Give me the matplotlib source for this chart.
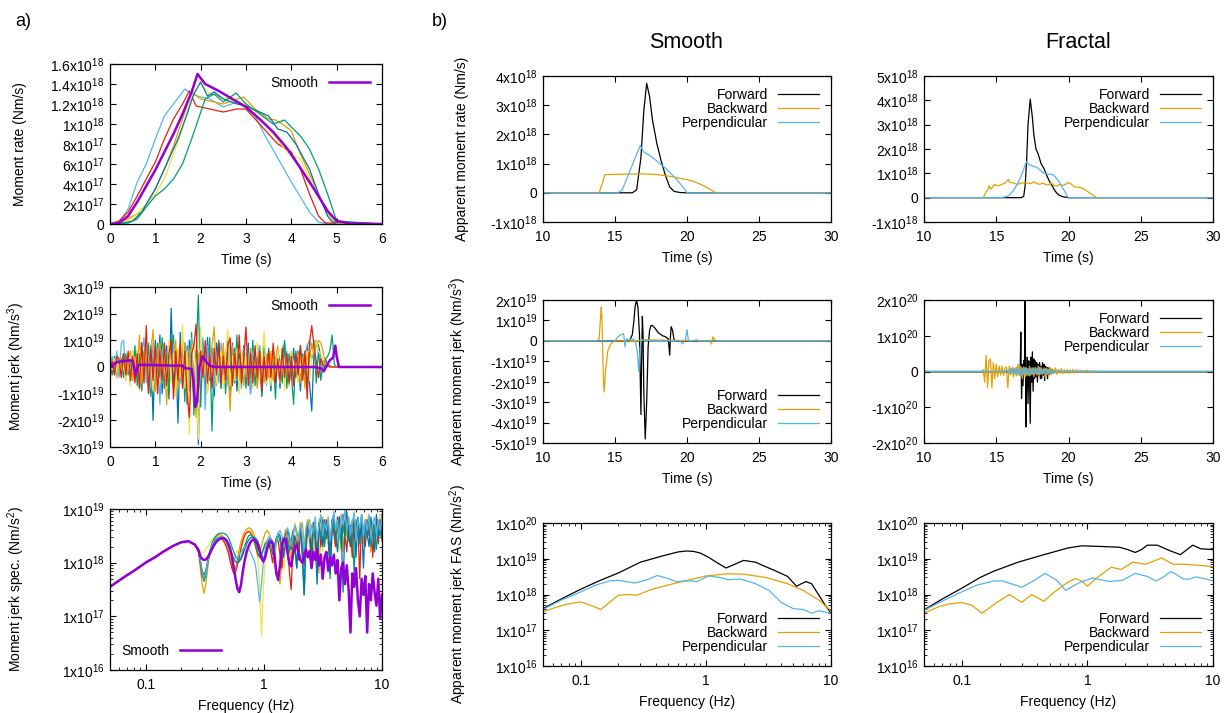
import numpy as np
import matplotlib
matplotlib.use('Agg')
import matplotlib.pyplot as plt
from matplotlib.ticker import LogLocator, NullFormatter

plt.rcParams.update({
    'font.family': 'Liberation Sans', 'font.size': 10,
    'mathtext.fontset': 'custom', 'mathtext.rm': 'Liberation Sans',
    'mathtext.default': 'regular', 'axes.linewidth': 0.9,
    'xtick.direction': 'in', 'ytick.direction': 'in',
    'xtick.top': True, 'ytick.right': True,
    'xtick.labelsize': 10, 'ytick.labelsize': 10,
    'xtick.major.size': 4.5, 'ytick.major.size': 4.5,
    'xtick.minor.size': 2.5, 'ytick.minor.size': 2.5,
    'xtick.major.pad': 5.5, 'ytick.major.pad': 4,
    'axes.labelpad': 5,
})

C_PURPLE = '#9400d3'
C_GREEN = '#009e73'
C_LBLUE = '#56b4e9'
C_ORANGE = '#e69f00'
C_YELLOW = '#f0e442'
C_BLUE = '#0072b2'
C_RED = '#e51e10'

# ---------------- a) moment rate (x1e18 Nm/s) ----------------
rate_smooth_t = [0, 0.2, 0.4, 0.6, 0.8, 1.0, 1.2, 1.4, 1.6, 1.8, 1.93, 2.1, 2.4, 2.7, 3.0, 3.3, 3.6, 3.9, 4.2, 4.5, 4.8, 5.0, 5.3, 6.0]
rate_smooth = [0, 0.01, 0.08, 0.22, 0.38, 0.54, 0.72, 0.9, 1.1, 1.32, 1.5, 1.4, 1.33, 1.25, 1.17, 1.05, 0.92, 0.76, 0.56, 0.35, 0.13, 0.03, 0.005, 0]
rate_lblue_t = [0, 0.2, 0.4, 0.6, 0.8, 1.0, 1.2, 1.4, 1.65, 1.8, 2.0, 2.2, 2.5, 2.8, 3.0, 3.2, 3.4, 3.6, 3.8, 4.0, 4.2, 4.4, 4.6, 4.8, 6]
rate_lblue = [0, 0.02, 0.15, 0.42, 0.6, 0.85, 1.08, 1.2, 1.35, 1.3, 1.27, 1.25, 1.17, 1.22, 1.17, 1.08, 0.9, 0.74, 0.58, 0.42, 0.27, 0.12, 0.02, 0, 0]
rate_red_t = [0, 0.2, 0.4, 0.6, 0.8, 1.0, 1.2, 1.4, 1.6, 1.75, 1.9, 2.2, 2.5, 2.8, 3.0, 3.2, 3.4, 3.7, 4.0, 4.2, 4.4, 4.6, 4.75, 6]
rate_red = [0, 0.03, 0.12, 0.28, 0.45, 0.62, 0.85, 1.05, 1.2, 1.33, 1.18, 1.15, 1.12, 1.15, 1.15, 1.05, 0.95, 0.8, 0.72, 0.55, 0.3, 0.08, 0.01, 0]
rate_orange_t = [0, 0.3, 0.5, 0.7, 1.0, 1.2, 1.4, 1.6, 1.8, 2.0, 2.2, 2.5, 2.8, 2.95, 3.2, 3.5, 3.65, 3.8, 4.0, 4.2, 4.4, 4.6, 4.8, 4.95, 6]
rate_orange = [0, 0.03, 0.08, 0.12, 0.35, 0.55, 0.78, 1.05, 1.32, 1.25, 1.23, 1.2, 1.25, 1.27, 1.15, 1.05, 1.04, 1.0, 0.93, 0.7, 0.5, 0.3, 0.1, 0.02, 0]
rate_yellow_t = [0, 0.3, 0.5, 0.8, 1.0, 1.2, 1.4, 1.6, 1.75, 1.9, 2.2, 2.6, 3.0, 3.3, 3.6, 3.9, 4.2, 4.4, 4.6, 4.8, 5.0, 6]
rate_yellow = [0, 0.02, 0.06, 0.2, 0.3, 0.45, 0.7, 0.95, 1.2, 1.45, 1.3, 1.25, 1.2, 1.05, 0.9, 0.72, 0.65, 0.45, 0.28, 0.1, 0.01, 0]
rate_blue_t = [0, 0.3, 0.5, 0.7, 1.0, 1.2, 1.5, 1.7, 1.85, 2.0, 2.15, 2.3, 2.5, 2.8, 3.0, 3.3, 3.5, 3.7, 3.9, 4.1, 4.4, 4.6, 4.8, 4.9, 6]
rate_blue = [0, 0.01, 0.03, 0.12, 0.35, 0.55, 0.85, 1.1, 1.3, 1.42, 1.28, 1.32, 1.25, 1.2, 1.18, 1.12, 1.08, 0.95, 0.92, 0.8, 0.55, 0.3, 0.08, 0.02, 0]
rate_green_t = [0, 0.4, 0.6, 0.8, 1.0, 1.2, 1.4, 1.6, 1.8, 1.95, 2.1, 2.3, 2.5, 2.78, 3.0, 3.3, 3.6, 3.85, 4.0, 4.2, 4.4, 4.6, 4.8, 5.0, 6]
rate_green = [0, 0.01, 0.05, 0.17, 0.28, 0.35, 0.45, 0.6, 0.85, 1.05, 1.25, 1.3, 1.22, 1.31, 1.2, 1.1, 1.0, 1.04, 0.97, 0.88, 0.75, 0.55, 0.3, 0.03, 0]

# ---------------- a) moment jerk (x1e19), samples every 0.05 s from 0 to 5 s ----------------
jerk_blue = [-0.5, 0.3, -0.2, 0.4, -0.3, 0.2, 0.5, -0.4, 0.3, -0.6,
             0.4, -0.2, 0.6, -0.8, 0.9, -0.5, 0.7, -1.0, 0.8, -2.0,
             1.0, -0.6, 1.2, -1.0, 0.4, 0.8, -1.2, 2.2, -0.8, 0.5,
             -2.1, 1.3, -0.7, 0.9, -1.4, 1.0, 0.3, -1.2, 0.6, -2.9,
             0.9, 0.2, -0.9, 1.1, -0.5, 0.7, -1.1, 0.9, 0.3, -0.8,
             0.6, -0.5, 1.0, -1.2, 0.4, 0.7, -0.9, 0.5, -0.3, 0.8,
             -0.6, 0.9, -1.0, 0.3, 0.6, -0.7, 0.4, -1.1, 0.8, -0.4,
             0.5, -0.9, 0.7, -0.3, 0.6, -0.8, 0.4, 0.9, -0.6, 0.3,
             -0.5, 0.7, -0.4, 0.6, -0.9, 0.5, -0.3, 0.8, -0.6, -1.65,
             0.6, 1.0, 0.8, 0.4, -0.2, 0.3, 0.1, 0.05, 0.0, 0.02, 0.0]
jerk_green = [0.2, -0.3, 0.4, -0.2, 0.1, 0.3, -0.4, 0.5, -0.3, 0.2,
              -0.5, 0.8, -0.7, 0.5, -0.9, 0.6, -0.3, 0.9, -1.1, 0.4,
              -0.6, 0.9, -0.4, 1.1, -0.8, 0.5, -1.0, 0.7, 1.2, -0.9,
              0.6, -0.4, 1.0, -1.3, 0.8, -0.6, 1.3, -1.8, 0.5, 2.7,
              -1.5, 0.9, 0.3, -0.8, 1.1, -2.4, 0.6, -0.5, 1.0, -0.7,
              0.4, -1.0, 0.8, -0.3, 0.9, -0.6, 1.2, -0.9, 0.5, 0.3,
              -0.8, 0.6, -0.4, 1.0, -0.7, 0.3, 0.8, -1.0, 0.5, -0.3,
              0.7, -0.5, 0.4, -1.2, 0.6, 0.2, -0.6, 1.0, -0.8, 0.5,
              -0.3, -1.4, 0.6, -0.5, 0.8, -0.4, 0.3, -0.7, 0.5, 0.3,
              1.0, -0.6, 0.7, -0.5, 0.2, 0.3, 0.4, 0.6, 1.2, 0.1, 0.0]
jerk_lblue = [0.1, 0.4, -0.3, 0.6, -0.4, 0.9, 1.0, -0.5, 0.4, -0.3,
              0.6, -0.4, 0.3, -0.7, 0.5, 1.1, -0.6, 0.4, -0.8, 0.9,
              -0.5, 0.7, -1.4, 0.6, 0.9, -0.7, 0.5, -0.3, 0.8, -0.9,
              0.4, -0.6, 1.0, -0.4, 0.7, -0.9, 1.1, -0.5, 0.3, -1.3,
              0.2, 1.1, -1.6, 0.8, -0.4, 0.6, -0.8, 0.4, -0.6, 0.9,
              -0.3, 0.5, -0.7, 0.9, -0.4, 0.6, -0.5, 0.3, -0.8, 0.7,
              -0.4, 0.5, -1.0, 0.6, 0.3, -0.6, 0.8, -0.4, 0.5, -0.7,
              0.4, -0.5, 0.7, -0.3, 0.5, -0.6, 0.3, -0.4, 0.6, -0.5,
              0.3, -0.4, 0.5, -0.2, 0.4, -0.3, 0.5, 0.8, 1.0, 0.7,
              0.5, 1.0, 0.6, 0.3, -0.2, 0.1, 0.0, 0.05, 0.0, 0.0, 0.0]
jerk_orange = [-0.2, 0.2, 0.3, -0.4, 0.2, -0.3, 0.5, -0.2, 0.3, 0.6,
               -0.5, 0.4, -0.3, 1.2, -0.6, 0.4, 0.8, -0.7, 0.6, 1.4,
               -0.9, 0.5, 0.9, -0.6, 0.4, -1.4, 0.7, -0.5, 0.3, 1.0,
               -0.8, 0.6, -0.5, 0.9, -1.2, 0.4, 0.8, -0.6, -1.9, 0.5,
               0.7, -0.3, 0.5, -0.9, 0.4, 0.8, 1.5, -0.7, 0.6, -0.4,
               0.9, -0.6, 0.3, -1.65, 0.8, -0.5, 0.6, -0.3, 0.4, -0.7,
               0.5, -0.3, 0.7, -0.5, 0.4, -0.8, 0.6, 0.3, -0.6, 0.5,
               -0.4, 0.6, -0.5, 0.3, 0.8, -0.6, 0.4, -0.3, 0.5, -0.7,
               0.6, -0.4, 0.3, 0.5, -0.6, 0.4, -0.8, 0.6, 0.3, 0.9,
               0.5, 0.8, 1.0, 0.9, 0.6, 0.1, 0.05, 0.0, 0.0, 0.0, 0.0]
jerk_yellow = [0.1, -0.1, 0.3, -0.2, 0.4, -0.3, 0.2, -0.5, 0.4, -0.7,
               0.6, -0.4, 0.7, -0.9, 0.5, -0.6, 0.8, -0.5, 0.3, -0.9,
               0.5, -0.7, 0.6, -0.4, 0.9, -0.8, 1.0, -0.6, 0.5, -1.1,
               0.7, -0.4, 1.6, -0.8, 0.6, -2.5, 0.4, 1.0, -0.6, -2.7,
               1.5, -0.5, 0.6, -1.0, 0.5, -0.4, 0.8, -0.6, 0.3, 0.6,
               -0.8, 0.5, 1.4, -0.7, 0.4, -0.5, 0.7, -1.0, 0.6, -0.3,
               0.5, -0.6, 0.4, -0.8, 0.6, 0.9, -0.5, 0.3, 1.35, -0.6,
               0.4, -0.7, 0.5, -0.3, 0.6, -0.5, 0.8, -0.9, 0.4, -0.3,
               0.6, -0.5, 0.3, -0.6, 0.5, -0.4, 0.3, 0.6, -0.5, 0.4,
               0.7, 1.0, 0.6, 0.5, 0.2, 0.0, 0.05, 0.0, 0.0, 0.0, 0.0]
jerk_red = [0.0, 0.2, -0.3, 0.4, 0.3, -0.4, 0.5, -0.3, 0.6, -0.5,
            0.4, -0.6, 0.5, -0.8, 0.9, -0.6, 1.55, -1.0, 0.7, -0.5,
            0.8, -1.0, 0.6, -0.5, 0.9, -0.7, 0.5, 1.0, -1.2, 0.6,
            -0.5, 0.9, -0.8, 0.6, -1.0, -1.9, 0.5, 0.8, 1.6, -0.9,
            0.6, -0.4, 1.0, -0.6, 0.5, -0.8, 0.7, -0.3, 0.9, -0.6,
            0.4, -0.5, 0.8, 1.1, -0.7, 0.5, -0.4, 1.2, -0.6, 0.3,
            1.5, -0.7, 0.5, -0.6, 0.8, -0.4, 0.6, -0.9, 0.4, -0.5,
            0.6, -0.4, 0.9, -0.6, 0.3, -0.5, 0.7, -0.4, 0.5, -0.6,
            0.4, -0.7, 0.5, -0.3, 0.8, -0.5, 0.6, -1.2, 0.9, 1.55,
            0.8, 0.2, -0.4, 0.3, 0.1, 0.0, 0.05, 0.0, 0.0, 0.0, 0.0]
jerk_smooth_t = [0, 0.05, 0.1, 0.2, 0.3, 0.4, 0.5, 0.53, 0.57, 0.62, 0.65, 0.8, 1.0, 1.2, 1.4, 1.6, 1.65, 1.7, 1.8, 1.84, 1.88, 1.92, 1.97, 2.05, 2.12, 2.2, 2.3, 2.5, 3, 3.5, 4, 4.5, 4.65, 4.72, 4.78, 4.85, 4.92, 4.97, 5.0, 5.05, 5.2, 6]
jerk_smooth = [0.1, 0.0, 0.15, 0.2, 0.22, 0.24, 0.25, 0.0, -0.3, 0.05, 0.08, 0.08, 0.07, 0.06, 0.05, 0.05, -0.05, -0.05, -0.07, -0.5, -1.5, -1.3, 0.0, 0.4, 0.2, 0.05, 0.0, 0.0, 0.0, 0.0, 0.0, 0.0, -0.05, -0.15, 0.05, 0.25, 0.35, 0.8, 0.4, 0.0, 0.0, 0.0]

# ---------------- a) moment jerk spectrum (log10 of Nm/s^2) ----------------
spec_low_f = [0.05, 0.06, 0.07, 0.08, 0.1, 0.12, 0.14, 0.17, 0.2, 0.23, 0.26]
spec_low = [17.55, 17.67, 17.77, 17.85, 18.0, 18.1, 18.2, 18.31, 18.38, 18.4, 18.34]
# log-spaced samples from 0.28 Hz to 10 Hz
spec_smooth = [18.24, 18.12, 18.07, 18.05, 18.06, 18.1, 18.16, 18.23, 18.3, 18.36,
               18.4, 18.43, 18.45, 18.46, 18.45, 18.42, 18.36, 18.27, 18.12, 17.92,
               17.7, 17.52, 17.45, 17.6, 17.85, 18.05, 18.2, 18.3, 18.38, 18.42,
               18.43, 18.4, 18.33, 18.22, 18.08, 18.02, 18.1, 18.25, 18.35, 18.4,
               18.36, 18.15, 17.8, 17.68, 17.95, 18.3, 18.45, 18.43, 18.2, 17.98,
               17.93, 18.15, 18.3, 18.32, 18.2, 18.05, 18.0, 18.12, 18.25, 18.1,
               18.22, 17.9, 18.2, 18.05, 18.25, 17.95, 18.15, 17.7, 18.1, 18.2,
               17.85, 18.1, 17.95, 18.15, 17.8, 18.05, 17.3, 17.9, 18.0, 17.6,
               17.95, 17.5, 16.7, 17.8, 17.55, 17.9, 17.3, 17.0, 17.7, 17.4,
               17.75, 16.7, 17.6, 17.3, 17.8, 17.45, 17.2, 17.7, 16.95, 17.4]
spec_yellow = [18.25, 18.2, 18.18, 18.2, 18.25, 18.3, 18.36, 18.41, 18.45, 18.47,
               18.48, 18.48, 18.46, 18.42, 18.36, 18.3, 18.24, 18.2, 18.17, 18.16,
               18.18, 18.22, 18.15, 18.2, 18.35, 18.48, 18.56, 18.6, 18.6, 18.55,
               18.45, 18.3, 18.05, 17.6, 16.65, 17.5, 18.1, 18.35, 18.45, 18.4,
               18.2, 17.9, 18.3, 18.55, 18.5, 18.2, 17.85, 18.4, 18.6, 18.45,
               18.1, 18.5, 18.75, 18.55, 18.2, 18.7, 18.4, 18.05, 18.65, 18.8,
               18.5, 18.1, 18.7, 18.55, 18.3, 18.8, 18.6, 18.2, 18.75, 18.5,
               18.85, 18.3, 18.6, 18.9, 18.4, 18.7, 18.2, 18.8, 18.55, 18.9,
               18.35, 18.75, 18.6, 18.1, 18.85, 18.5, 18.7, 18.3, 18.9, 18.6,
               18.4, 18.85, 18.55, 18.75, 18.2, 18.8, 18.6, 18.4, 18.9, 18.7]
spec_orange = [18.2, 17.9, 17.6, 17.43, 17.6, 17.9, 18.15, 18.3, 18.4, 18.46,
               18.5, 18.52, 18.52, 18.5, 18.45, 18.37, 18.25, 18.1, 17.95, 17.85,
               17.9, 18.05, 18.25, 18.4, 18.5, 18.58, 18.62, 18.65, 18.64, 18.6,
               18.52, 18.4, 18.25, 18.2, 18.3, 18.45, 18.55, 18.6, 18.55, 18.45,
               18.3, 18.1, 17.9, 17.75, 17.6, 18.0, 18.4, 18.62, 18.55, 18.3,
               18.0, 18.45, 18.7, 18.5, 18.15, 18.6, 18.75, 18.4, 18.1, 18.65,
               18.8, 18.45, 18.1, 18.7, 18.5, 17.8, 18.6, 18.85, 18.4, 18.7,
               18.55, 18.15, 18.8, 18.6, 18.3, 18.85, 18.45, 18.7, 18.2, 18.75,
               18.5, 18.85, 18.3, 18.65, 18.8, 18.4, 18.7, 18.55, 18.9, 18.35,
               18.75, 18.6, 18.85, 18.2, 18.7, 18.5, 18.85, 18.4, 18.75, 18.6]
spec_red = [18.2, 18.0, 17.75, 17.72, 17.85, 18.05, 18.2, 18.3, 18.38, 18.43,
            18.46, 18.47, 18.46, 18.43, 18.38, 18.3, 18.2, 18.05, 17.9, 17.8,
            17.82, 17.95, 18.1, 18.28, 18.42, 18.52, 18.56, 18.58, 18.56, 18.5,
            18.4, 18.28, 18.15, 18.1, 18.15, 18.25, 18.35, 18.4, 18.35, 18.2,
            18.0, 18.3, 18.45, 18.4, 18.15, 17.9, 18.35, 18.55, 18.4, 17.85,
            17.5, 18.3, 18.5, 18.35, 18.05, 18.6, 18.45, 17.95, 18.55, 18.7,
            18.4, 18.0, 18.65, 18.5, 18.2, 18.75, 18.3, 18.6, 18.8, 18.45,
            18.7, 18.15, 18.8, 18.55, 18.3, 18.85, 18.6, 18.4, 18.9, 18.5,
            18.2, 18.75, 18.6, 18.1, 18.8, 18.4, 18.7, 17.7, 18.85, 18.6,
            18.3, 18.8, 18.5, 18.75, 18.1, 18.7, 18.6, 18.35, 18.8, 18.55]
spec_green = [18.22, 18.05, 17.8, 17.65, 17.75, 18.0, 18.2, 18.33, 18.42, 18.48,
              18.52, 18.54, 18.55, 18.55, 18.54, 18.52, 18.48, 18.4, 18.3, 18.2,
              18.12, 18.07, 18.05, 18.1, 18.2, 18.32, 18.42, 18.5, 18.52, 18.5,
              18.42, 18.3, 18.18, 18.12, 18.15, 18.25, 18.35, 18.4, 18.38, 18.3,
              18.15, 18.3, 18.45, 18.5, 18.4, 18.15, 18.35, 18.5, 18.45, 18.2,
              18.4, 18.6, 18.3, 17.9, 18.45, 18.6, 18.35, 17.4, 18.3, 18.65,
              18.5, 18.2, 18.75, 18.6, 18.0, 18.7, 18.45, 18.8, 18.3, 18.6,
              18.75, 17.7, 18.5, 18.8, 18.4, 18.65, 18.85, 18.25, 18.7, 18.5,
              18.85, 18.4, 18.7, 18.55, 17.8, 18.8, 18.6, 18.35, 18.9, 18.5,
              18.7, 18.45, 18.85, 18.3, 18.75, 18.6, 18.25, 18.8, 18.5, 18.7]
spec_blue = [18.22, 18.05, 17.85, 17.78, 17.85, 18.0, 18.15, 18.27, 18.35, 18.41,
             18.45, 18.47, 18.48, 18.47, 18.45, 18.41, 18.35, 18.27, 18.17, 18.07,
             18.02, 18.0, 18.02, 18.07, 18.15, 18.25, 18.35, 18.42, 18.46, 18.48,
             18.47, 18.45, 18.4, 18.3, 18.15, 18.05, 18.15, 18.3, 18.42, 18.45,
             18.4, 18.25, 18.45, 18.55, 18.5, 18.3, 18.1, 18.4, 18.6, 18.5,
             18.25, 18.55, 18.4, 17.9, 18.5, 18.65, 18.1, 17.4, 18.4, 18.7,
             18.55, 18.2, 18.75, 18.45, 17.6, 18.7, 18.85, 18.3, 18.6, 18.8,
             18.4, 17.8, 18.7, 18.9, 18.5, 18.2, 18.85, 18.6, 17.45, 18.75,
             18.95, 18.5, 18.3, 18.8, 18.6, 18.1, 18.85, 18.45, 18.7, 17.9,
             18.8, 18.55, 18.3, 18.85, 18.6, 18.2, 18.9, 18.5, 18.75, 18.4]
spec_lblue = [18.22, 18.05, 17.85, 17.72, 17.82, 18.0, 18.18, 18.3, 18.38, 18.43,
              18.46, 18.47, 18.47, 18.45, 18.42, 18.38, 18.3, 18.22, 18.15, 18.1,
              18.08, 18.1, 18.15, 18.2, 18.25, 18.3, 18.3, 18.26, 18.2, 18.12,
              18.05, 17.9, 17.6, 17.27, 17.6, 18.0, 18.25, 18.4, 18.48, 18.45,
              18.35, 18.2, 18.4, 18.55, 18.6, 18.5, 18.3, 18.45, 18.65, 18.55,
              18.3, 18.5, 18.7, 18.6, 18.4, 18.75, 18.5, 18.2, 18.65, 18.8,
              18.45, 18.7, 18.55, 18.85, 18.4, 18.7, 18.9, 18.5, 18.75, 18.6,
              18.85, 18.4, 18.7, 18.95, 18.6, 18.8, 18.45, 18.9, 18.7, 19.0,
              18.6, 18.85, 18.5, 18.75, 18.95, 18.4, 18.8, 18.65, 18.9, 18.5,
              18.8, 18.6, 18.9, 18.45, 18.75, 18.85, 18.5, 18.8, 18.6, 18.9]

# ---------------- b) apparent moment rate (x1e18) ----------------
s_rate_fw_t = [10, 16.2, 16.5, 16.8, 17.0, 17.2, 17.4, 17.6, 17.9, 18.2, 18.5, 18.8, 19.1, 19.5, 20, 30]
s_rate_fw = [0, 0, 0.1, 1.2, 2.8, 3.75, 3.3, 2.5, 1.7, 1.1, 0.6, 0.2, 0.05, 0.01, 0, 0]
s_rate_bw_t = [10, 13.9, 14.1, 14.3, 15, 16, 17, 18, 19, 20, 20.5, 21, 21.5, 22, 30]
s_rate_bw = [0, 0, 0.3, 0.62, 0.63, 0.64, 0.65, 0.62, 0.55, 0.45, 0.38, 0.28, 0.15, 0, 0]
s_rate_pp_t = [10, 15.2, 15.5, 16, 16.4, 16.75, 17.0, 17.5, 18, 18.6, 19.3, 19.8, 20, 30]
s_rate_pp = [0, 0, 0.1, 0.7, 1.2, 1.62, 1.4, 1.25, 1.05, 0.8, 0.45, 0.15, 0, 0]

f_rate_fw_t = [10, 16.7, 16.9, 17.0, 17.1, 17.2, 17.35, 17.5, 17.6, 17.75, 17.9, 18.1, 18.3, 18.5, 18.7, 18.9, 19.1, 19.3, 19.6, 20.0, 30]
f_rate_fw = [0, 0, 0.05, 0.5, 1.5, 3.0, 4.05, 3.3, 2.6, 2.0, 1.8, 1.4, 1.2, 0.9, 0.65, 0.45, 0.25, 0.12, 0.04, 0, 0]
f_rate_bw_t = [10, 14.1, 14.2, 14.3, 14.4, 14.5, 14.6, 14.7, 14.8, 14.9, 15.0, 15.2, 15.4, 15.6, 15.8, 15.85, 15.9, 16.0, 16.2, 16.4, 16.6, 16.8, 17.0, 17.2, 17.4, 17.6, 17.8, 18.0, 18.2, 18.4, 18.6, 18.8, 19.0, 19.2, 19.4, 19.6, 19.8, 20.0, 20.2, 20.4, 20.6, 20.8, 21.0, 21.2, 21.4, 21.6, 21.8, 21.95, 30]
f_rate_bw = [0, 0, 0.1, 0.25, 0.3, 0.5, 0.35, 0.4, 0.5, 0.55, 0.5, 0.5, 0.55, 0.6, 0.72, 0.75, 0.65, 0.62, 0.6, 0.55, 0.57, 0.6, 0.62, 0.6, 0.58, 0.65, 0.58, 0.55, 0.6, 0.55, 0.52, 0.6, 0.5, 0.48, 0.55, 0.5, 0.55, 0.62, 0.55, 0.45, 0.43, 0.42, 0.38, 0.3, 0.22, 0.15, 0.06, 0.0, 0]
f_rate_pp_t = [10, 15.3, 15.6, 15.9, 16.2, 16.5, 16.8, 17.0, 17.1, 17.3, 17.5, 17.8, 18.0, 18.3, 18.6, 18.9, 19.1, 19.3, 19.5, 19.7, 19.9, 20.0, 30]
f_rate_pp = [0, 0, 0.03, 0.1, 0.3, 0.6, 1.0, 1.35, 1.48, 1.35, 1.3, 1.25, 1.15, 1.0, 0.97, 0.95, 0.85, 0.7, 0.5, 0.3, 0.08, 0, 0]

# ---------------- b) apparent moment jerk ----------------
# smooth, x1e19
s_jerk_fw_t = [10, 16.0, 16.2, 16.3, 16.4, 16.5, 16.6, 16.7, 16.8, 16.85, 16.9, 16.95, 17.0, 17.1, 17.2, 17.3, 17.4, 17.5, 17.6, 17.8, 18.0, 18.3, 18.5, 18.7, 18.8, 18.85, 18.9, 19.0, 19.1, 19.2, 30]
s_jerk_fw = [0, 0, 0.3, 0.9, 1.7, 2.0, 1.6, 0.3, -3.6, -1.0, 1.2, 0.2, -2.5, -4.8, -3.0, -0.3, 0.5, 0.75, 0.75, 0.6, 0.4, 0.25, 0.2, 0.1, -0.7, 0.2, 0.7, 0.5, 0.05, 0, 0]
s_jerk_bw_t = [10, 13.75, 13.9, 14.0, 14.05, 14.1, 14.15, 14.2, 14.25, 14.35, 14.5, 14.7, 15.0, 16.5, 17.0, 21.6, 21.7, 21.8, 21.9, 22.0, 30]
s_jerk_bw = [0, 0, 0.1, 1.2, 1.65, 1.0, -0.5, -2.0, -2.5, -1.4, -0.5, -0.15, 0, 0.0, 0.05, 0, -0.15, 0.2, 0.1, 0, 0]
s_jerk_pp_t = [10, 15.0, 15.2, 15.4, 15.6, 15.7, 15.75, 15.8, 16.0, 16.2, 16.4, 16.55, 16.65, 16.75, 16.85, 17.0, 17.5, 18.0, 19.0, 19.5, 19.7, 19.9, 20.0, 20.1, 20.3, 20.7, 20.8, 30]
s_jerk_pp = [0, 0, 0.2, 0.3, 0.35, -0.3, 0.0, 0.1, 0.05, 0.1, 0.0, -0.5, -1.5, -0.3, 0.05, 0.05, 0, 0, 0, 0, -0.15, 0.1, 0.55, 0.0, 0, 0.05, 0, 0]
# fractal, x1e20
f_jerk_bw = [0.0, 0.05, -0.3, 0.45, -0.45, 0.3, 0.35, -0.45, 0.25, -0.2,
             0.2, -0.15, 0.15, -0.1, 0.15, -0.12, 0.1, 0.12, -0.45, 0.15,
             -0.1, 0.12, -0.15, 0.1, -0.12, 0.2, -0.1, 0.15, -0.2, 0.12,
             -0.15, 0.1, -0.12, 0.15, -0.1, 0.1, -0.15, 0.12, -0.1, 0.15,
             -0.1, 0.12, -0.08, 0.1, -0.2, 0.1, -0.08, 0.12, -0.1, 0.08,
             -0.06, 0.1, -0.08, 0.06, -0.05, 0.08, -0.06, 0.05, -0.04, 0.06,
             -0.05, 0.05, -0.04, 0.06, -0.04, 0.05, -0.03, 0.04, -0.03, 0.04,
             -0.03, 0.03, -0.02, 0.04, -0.02, 0.03, -0.02, 0.02, -0.01, 0.01,
             0.0]  # 14 s .. 22 s
f_jerk_fw = [0.0, 0.02, 0.05, -0.1, 1.1, -0.75, 0.2, -0.4, 0.3, 0.1,
             2.0, -1.55, -0.3, 0.4, -0.9, 0.3, 0.0, -1.45, 0.4, -0.3,
             0.55, -0.55, 0.35, -0.2, 0.3, -0.15, 0.25, -0.3, 0.2, -0.1,
             0.25, -0.2, 0.15, -0.2, 0.25, -0.1, 0.2, -0.25, 0.15, -0.1,
             0.12, -0.2, 0.1, -0.08, 0.1, -0.06, 0.05, -0.05, 0.04, -0.03,
             0.03, -0.02, 0.02, -0.02, 0.01, -0.01, 0.01, 0.0, 0.0, 0.0,
             0.0]  # 16.5 s .. 19.5 s
f_jerk_pp = [0.0, 0.02, -0.03, 0.05, -0.06, 0.08, -0.05, 0.1, -0.08, 0.12,
             -0.1, 0.08, -0.12, 0.1, -0.08, 0.12, -0.1, 0.08, -0.12, 0.1,
             -0.08, 0.1, -0.06, 0.08, -0.1, 0.12, -0.08, 0.06, -0.05, 0.08,
             -0.1, 0.06, -0.05, 0.04, -0.06, 0.03, -0.02, 0.02, -0.01, 0.01,
             0.0]  # 15.5 s .. 19.5 s

# ---------------- b) apparent moment jerk FAS (x1e18) ----------------
s_fas_fw_f = [0.05, 0.07, 0.1, 0.14, 0.2, 0.3, 0.45, 0.6, 0.7, 0.8, 0.9, 1.05, 1.25, 1.45, 1.7, 2.0, 2.5, 3.0, 3.5, 4.5, 5.3, 5.8, 6.3, 7.0, 7.8, 9.0, 10]
s_fas_fw = [0.4, 0.75, 1.4, 2.4, 4.0, 8.0, 12.0, 15.5, 16.5, 16.0, 14.5, 11.0, 7.5, 5.5, 7.0, 9.0, 8.0, 6.0, 4.8, 3.2, 1.7, 2.0, 2.3, 2.0, 1.1, 0.5, 0.3]
s_fas_bw_f = [0.05, 0.065, 0.08, 0.1, 0.12, 0.145, 0.17, 0.2, 0.24, 0.28, 0.35, 0.4, 0.55, 0.75, 1.0, 1.5, 2.0, 3.0, 4.5, 6.0, 8.0, 10]
s_fas_bw = [0.33, 0.45, 0.55, 0.62, 0.5, 0.38, 0.6, 0.95, 1.0, 0.95, 1.3, 1.5, 2.0, 2.6, 3.3, 3.8, 3.7, 3.0, 2.0, 1.3, 0.7, 0.35]
s_fas_pp_f = [0.05, 0.07, 0.09, 0.13, 0.17, 0.2, 0.27, 0.33, 0.41, 0.5, 0.58, 0.75, 0.85, 1.05, 1.3, 1.5, 1.9, 2.5, 3.2, 4.0, 5.0, 6.0, 7.0, 8.0, 10]
s_fas_pp = [0.38, 0.7, 1.0, 1.8, 2.4, 2.5, 2.1, 2.5, 3.4, 2.8, 2.3, 2.4, 2.3, 3.3, 3.0, 2.6, 2.7, 2.0, 1.3, 0.6, 0.4, 0.38, 0.3, 0.35, 0.3]
f_fas_fw_f = [0.05, 0.07, 0.1, 0.14, 0.18, 0.28, 0.45, 0.7, 0.9, 1.3, 1.8, 2.1, 2.4, 2.7, 3.0, 3.6, 4.5, 5.5, 6.2, 6.9, 8.0, 10]
f_fas_fw = [0.37, 0.75, 1.5, 3.0, 4.5, 8.0, 13.0, 20.0, 23.0, 22.0, 21.0, 18.0, 15.0, 18.0, 24.0, 24.0, 17.0, 13.0, 18.0, 24.0, 19.0, 18.0]
f_fas_bw_f = [0.05, 0.065, 0.08, 0.1, 0.12, 0.145, 0.17, 0.19, 0.24, 0.3, 0.36, 0.45, 0.55, 0.7, 0.8, 0.9, 1.0, 1.2, 1.55, 1.85, 2.3, 2.9, 3.9, 4.8, 6.0, 8.0, 10]
f_fas_bw = [0.3, 0.45, 0.55, 0.6, 0.5, 0.3, 0.45, 0.6, 1.0, 0.6, 1.0, 0.65, 1.2, 2.2, 2.8, 2.4, 1.7, 3.0, 5.8, 5.0, 8.0, 7.0, 10.5, 7.0, 7.0, 6.5, 6.0]
f_fas_pp_f = [0.05, 0.07, 0.09, 0.13, 0.18, 0.21, 0.3, 0.38, 0.46, 0.57, 0.67, 0.85, 1.1, 1.5, 1.9, 2.4, 3.0, 3.5, 4.0, 4.6, 5.2, 5.8, 6.5, 7.3, 8.5, 10]
f_fas_pp = [0.36, 0.65, 1.0, 1.8, 2.4, 2.4, 1.6, 2.5, 3.9, 2.5, 1.3, 2.1, 2.9, 2.3, 2.5, 3.9, 3.2, 2.4, 3.0, 4.4, 3.5, 2.7, 2.7, 3.1, 2.8, 2.4]

# tick labels
def sci(m, e):
    return f'{m}x10$^{{{e}}}$'

a_rate_ticks = [0, 0.2, 0.4, 0.6, 0.8, 1.0, 1.2, 1.4, 1.6]
a_rate_labels = ['0', sci(2, 17), sci(4, 17), sci(6, 17), sci(8, 17), sci(1, 18), sci(1.2, 18), sci(1.4, 18), sci(1.6, 18)]
a_jerk_ticks = [-3, -2, -1, 0, 1, 2, 3]
a_jerk_labels = [sci(-3, 19), sci(-2, 19), sci(-1, 19), '0', sci(1, 19), sci(2, 19), sci(3, 19)]
s_rate_ticks = [-1, 0, 1, 2, 3, 4]
s_rate_labels = [sci(-1, 18), '0', sci(1, 18), sci(2, 18), sci(3, 18), sci(4, 18)]
f_rate_ticks = [-1, 0, 1, 2, 3, 4, 5]
f_rate_labels = [sci(-1, 18), '0', sci(1, 18), sci(2, 18), sci(3, 18), sci(4, 18), sci(5, 18)]
s_jerk_ticks = [-5, -4, -3, -2, -1, 0, 1, 2]
s_jerk_labels = [sci(-5, 19), sci(-4, 19), sci(-3, 19), sci(-2, 19), sci(-1, 19), '0', sci(1, 19), sci(2, 19)]
f_jerk_ticks = [-2, -1, 0, 1, 2]
f_jerk_labels = [sci(-2, 20), sci(-1, 20), '0', sci(1, 20), sci(2, 20)]
time_b_ticks = [10, 15, 20, 25, 30]

fig = plt.figure(figsize=(12.28, 7.13), dpi=100)

def px_axes(x0, y0, x1, y1):
    W, H = 1228, 713
    return fig.add_axes([x0 / W, 1 - y1 / H, (x1 - x0) / W, (y1 - y0) / H])

def log_axes(ax, ymin, ymax):
    ax.set_xscale('log')
    ax.set_yscale('log')
    ax.set_xlim(0.05, 10)
    ax.set_ylim(ymin, ymax)
    ax.set_xticks([0.1, 1, 10])
    ax.set_xticklabels(['0.1', '1', '10'])
    ax.xaxis.set_minor_locator(LogLocator(subs=np.arange(2, 10)))
    ax.xaxis.set_minor_formatter(NullFormatter())
    exps = list(range(int(np.log10(ymin)), int(np.log10(ymax)) + 1))
    ax.set_yticks([10.0 ** e for e in exps])
    ax.set_yticklabels([sci(1, e) for e in exps])
    ax.yaxis.set_minor_locator(LogLocator(subs=np.arange(2, 10), numticks=20))
    ax.yaxis.set_minor_formatter(NullFormatter())
    ax.set_xlabel('Frequency (Hz)')

def leg(ax, loc, **kw):
    ax.legend(loc=loc, frameon=False, markerfirst=False, handlelength=3.0,
              handletextpad=0.7, labelspacing=0.0, borderaxespad=0.45, fontsize=10, **kw)

lw = 0.9
A_LAB = -0.305
B_LAB = -0.257

# ---- a1 ----
ax = px_axes(110, 64, 382, 224)
for t, v, c in [(rate_lblue_t, rate_lblue, C_LBLUE), (rate_red_t, rate_red, C_RED),
                (rate_orange_t, rate_orange, C_ORANGE), (rate_yellow_t, rate_yellow, C_YELLOW),
                (rate_blue_t, rate_blue, C_BLUE), (rate_green_t, rate_green, C_GREEN)]:
    ax.plot(t, np.array(v) * 1e18, color=c, lw=lw)
ax.plot(rate_smooth_t, np.array(rate_smooth) * 1e18, color=C_PURPLE, lw=1.8, label='Smooth')
ax.set_xlim(0, 6)
ax.set_ylim(0, 1.6e18)
ax.set_yticks(np.array(a_rate_ticks) * 1e18)
ax.set_yticklabels(a_rate_labels)
ax.set_xlabel('Time (s)')
ax.set_ylabel('Moment rate (Nm/s)')
ax.yaxis.set_label_coords(A_LAB, 0.5)
leg(ax, 'upper right')

# ---- a2 ----
ax = px_axes(110, 287, 382, 447)
for v, c in [(jerk_blue, C_BLUE), (jerk_green, C_GREEN), (jerk_lblue, C_LBLUE),
             (jerk_orange, C_ORANGE), (jerk_yellow, C_YELLOW), (jerk_red, C_RED)]:
    t = np.r_[np.linspace(0, 5, len(v)), 5.5, 6.0]
    ax.plot(t, np.r_[v, 0, 0] * 1e19, color=c, lw=lw)
ax.plot(jerk_smooth_t, np.array(jerk_smooth) * 1e19, color=C_PURPLE, lw=1.8, label='Smooth')
ax.set_xlim(0, 6)
ax.set_ylim(-3e19, 3e19)
ax.set_yticks(np.array(a_jerk_ticks) * 1e19)
ax.set_yticklabels(a_jerk_labels)
ax.set_xlabel('Time (s)')
ax.set_ylabel('Moment jerk (Nm/s$^3$)')
ax.yaxis.set_label_coords(A_LAB, 0.5)
leg(ax, 'upper right')

# ---- a3 ----
ax = px_axes(110, 509, 382, 670)
for v, c in [(spec_yellow, C_YELLOW), (spec_orange, C_ORANGE), (spec_red, C_RED),
             (spec_green, C_GREEN), (spec_blue, C_BLUE), (spec_lblue, C_LBLUE)]:
    f = np.r_[spec_low_f, np.geomspace(0.28, 10, len(v))]
    ax.plot(f, 10.0 ** np.r_[spec_low, v], color=c, lw=lw)
f = np.r_[spec_low_f, np.geomspace(0.28, 10, len(spec_smooth))]
ax.plot(f, 10.0 ** np.r_[spec_low, spec_smooth], color=C_PURPLE, lw=1.8, label='Smooth')
log_axes(ax, 1e16, 1e19)
ax.set_ylabel('Moment jerk spec. (Nm/s$^2$)')
ax.yaxis.set_label_coords(A_LAB, 0.5)
leg(ax, 'lower left')

# ---- b row 1 ----
ax = px_axes(543, 76, 831, 222)
ax.plot(s_rate_fw_t, np.array(s_rate_fw) * 1e18, color='black', lw=lw, label='Forward')
ax.plot(s_rate_bw_t, np.array(s_rate_bw) * 1e18, color=C_ORANGE, lw=lw, label='Backward')
ax.plot(s_rate_pp_t, np.array(s_rate_pp) * 1e18, color=C_LBLUE, lw=lw, label='Perpendicular')
ax.set_xlim(10, 30)
ax.set_xticks(time_b_ticks)
ax.set_ylim(-1e18, 4e18)
ax.set_yticks(np.array(s_rate_ticks) * 1e18)
ax.set_yticklabels(s_rate_labels)
ax.set_xlabel('Time (s)')
ax.set_ylabel('Apparent moment rate (Nm/s)')
ax.yaxis.set_label_coords(B_LAB, 0.5)
leg(ax, 'upper right')

ax = px_axes(924, 76, 1213, 222)
ax.plot(f_rate_fw_t, np.array(f_rate_fw) * 1e18, color='black', lw=lw, label='Forward')
ax.plot(f_rate_bw_t, np.array(f_rate_bw) * 1e18, color=C_ORANGE, lw=lw, label='Backward')
ax.plot(f_rate_pp_t, np.array(f_rate_pp) * 1e18, color=C_LBLUE, lw=lw, label='Perpendicular')
ax.set_xlim(10, 30)
ax.set_xticks(time_b_ticks)
ax.set_ylim(-1e18, 5e18)
ax.set_yticks(np.array(f_rate_ticks) * 1e18)
ax.set_yticklabels(f_rate_labels)
ax.set_xlabel('Time (s)')
leg(ax, 'upper right')

# ---- b row 2 ----
ax = px_axes(543, 300, 831, 443)
ax.plot(s_jerk_fw_t, np.array(s_jerk_fw) * 1e19, color='black', lw=lw, label='Forward')
ax.plot(s_jerk_bw_t, np.array(s_jerk_bw) * 1e19, color=C_ORANGE, lw=lw, label='Backward')
ax.plot(s_jerk_pp_t, np.array(s_jerk_pp) * 1e19, color=C_LBLUE, lw=lw, label='Perpendicular')
ax.axhline(0, color='#7a9a8a', lw=1.4, zorder=1.5)
ax.set_xlim(10, 30)
ax.set_xticks(time_b_ticks)
ax.set_ylim(-5e19, 2e19)
ax.set_yticks(np.array(s_jerk_ticks) * 1e19)
ax.set_yticklabels(s_jerk_labels)
ax.set_xlabel('Time (s)')
ax.set_ylabel('Apparent moment jerk (Nm/s$^3$)')
ax.yaxis.set_label_coords(B_LAB, 0.5)
leg(ax, 'lower right')

ax = px_axes(924, 300, 1213, 443)
ax.plot(np.r_[10, np.linspace(16.5, 19.5, len(f_jerk_fw)), 30], np.r_[0, f_jerk_fw, 0] * 1e20,
        color='black', lw=lw, label='Forward')
ax.plot(np.r_[10, np.linspace(14.0, 22.0, len(f_jerk_bw)), 30], np.r_[0, f_jerk_bw, 0] * 1e20,
        color=C_ORANGE, lw=lw, label='Backward')
ax.plot(np.r_[10, np.linspace(15.5, 19.5, len(f_jerk_pp)), 30], np.r_[0, f_jerk_pp, 0] * 1e20,
        color=C_LBLUE, lw=lw, label='Perpendicular')
ax.axhline(0, color='#7a9a8a', lw=1.4, zorder=1.5)
ax.set_xlim(10, 30)
ax.set_xticks(time_b_ticks)
ax.set_ylim(-2e20, 2e20)
ax.set_yticks(np.array(f_jerk_ticks) * 1e20)
ax.set_yticklabels(f_jerk_labels)
ax.set_xlabel('Time (s)')
leg(ax, 'upper right')

# ---- b row 3 ----
ax = px_axes(543, 523, 831, 666)
ax.plot(s_fas_fw_f, np.array(s_fas_fw) * 1e18, color='black', lw=lw, label='Forward')
ax.plot(s_fas_bw_f, np.array(s_fas_bw) * 1e18, color=C_ORANGE, lw=lw, label='Backward')
ax.plot(s_fas_pp_f, np.array(s_fas_pp) * 1e18, color=C_LBLUE, lw=lw, label='Perpendicular')
log_axes(ax, 1e16, 1e20)
ax.set_ylabel('Apparent moment jerk FAS (Nm/s$^2$)')
ax.yaxis.set_label_coords(B_LAB, 0.5)
leg(ax, 'lower right')

ax = px_axes(924, 523, 1213, 666)
ax.plot(f_fas_fw_f, np.array(f_fas_fw) * 1e18, color='black', lw=lw, label='Forward')
ax.plot(f_fas_bw_f, np.array(f_fas_bw) * 1e18, color=C_ORANGE, lw=lw, label='Backward')
ax.plot(f_fas_pp_f, np.array(f_fas_pp) * 1e18, color=C_LBLUE, lw=lw, label='Perpendicular')
log_axes(ax, 1e16, 1e20)
leg(ax, 'lower right')

fig.text(15 / 1228, 1 - 22 / 713, 'a)', fontsize=13, va='center')
fig.text(432 / 1228, 1 - 22 / 713, 'b)', fontsize=13, va='center')
fig.text(686 / 1228, 1 - 42 / 713, 'Smooth', fontsize=15.5, ha='center', va='center')
fig.text(1078 / 1228, 1 - 42 / 713, 'Fractal', fontsize=15.5, ha='center', va='center')

fig.savefig('out.png', dpi=100)
